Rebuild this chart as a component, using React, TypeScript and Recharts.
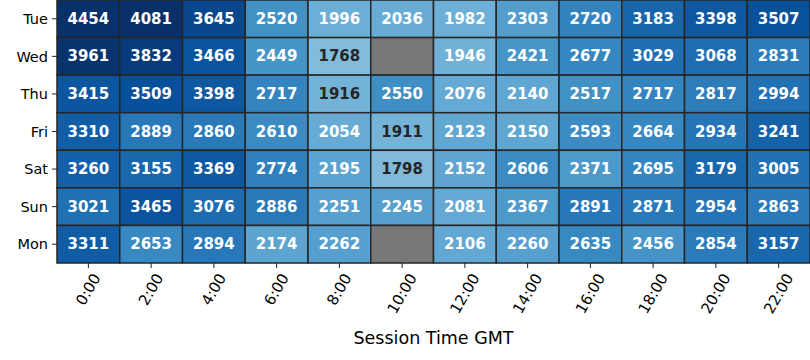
import { ScatterChart, Scatter, XAxis, YAxis } from 'recharts'

const days = ['Tue', 'Wed', 'Thu', 'Fri', 'Sat', 'Sun', 'Mon']
const hours = ['0:00', '2:00', '4:00', '6:00', '8:00', '10:00', '12:00', '14:00', '16:00', '18:00', '20:00', '22:00']

const tue = [4454, 4081, 3645, 2520, 1996, 2036, 1982, 2303, 2720, 3183, 3398, 3507]
const wed = [3961, 3832, 3466, 2449, 1768, null, 1946, 2421, 2677, 3029, 3068, 2831]
const thu = [3415, 3509, 3398, 2717, 1916, 2550, 2076, 2140, 2517, 2717, 2817, 2994]
const fri = [3310, 2889, 2860, 2610, 2054, 1911, 2123, 2150, 2593, 2664, 2934, 3241]
const sat = [3260, 3155, 3369, 2774, 2195, 1798, 2152, 2606, 2371, 2695, 3179, 3005]
const sun = [3021, 3465, 3076, 2886, 2251, 2245, 2081, 2367, 2891, 2871, 2954, 2863]
const mon = [3311, 2653, 2894, 2174, 2262, null, 2106, 2260, 2635, 2456, 2854, 3157]

const rows = [tue, wed, thu, fri, sat, sun, mon]

const cells = rows.flatMap((row, y) => row.map((value, x) => ({ x, y, value })))

const W = 810
const H = 360
const Y_W = 57
const X_H = 97
const cellW = (W - Y_W) / hours.length
const cellH = (H - X_H) / days.length
const FONT = '"DejaVu Sans", sans-serif'

// matplotlib Blues
const blues = ['#f7fbff', '#deebf7', '#c6dbef', '#9ecae1', '#6baed6', '#4292c6', '#2171b5', '#08519c', '#08306b']
const hex = (h: string) => [1, 3, 5].map(i => parseInt(h.slice(i, i + 2), 16))

function bluesRgb(t: number) {
  t = Math.max(0, Math.min(1, t))
  const p = t * (blues.length - 1)
  const i = Math.min(Math.floor(p), blues.length - 2)
  const f = p - i
  const a = hex(blues[i]), b = hex(blues[i + 1])
  return a.map((v, k) => v + (b[k] - v) * f)
}

function lum(rgb: number[]) {
  const c = rgb.map(v => {
    const s = v / 255
    return s <= 0.03928 ? s / 12.92 : Math.pow((s + 0.055) / 1.055, 2.4)
  })
  return 0.2126 * c[0] + 0.7152 * c[1] + 0.0722 * c[2]
}

function Cell(props: any) {
  const { cx, cy, payload } = props
  const v = payload.value
  let fill = '#787878'
  let txt = '#fff'
  if (v != null) {
    const rgb = bluesRgb(v / 4000)
    fill = `rgb(${rgb.map(Math.round).join(',')})`
    txt = lum(rgb) > 0.403 ? '#262626' : '#fff'
  }
  return (
    <g>
      <rect x={cx - cellW / 2} y={cy - cellH / 2} width={cellW} height={cellH} fill={fill} stroke="#262626" strokeWidth={1.5} />
      {v != null && (
        <text x={cx} y={cy} textAnchor="middle" dominantBaseline="central" fill={txt}
          fontSize={15} fontWeight="bold" fontFamily={FONT}>{v}</text>
      )}
    </g>
  )
}

function HourTick({ x, y, payload }: any) {
  const label = hours[payload.value]
  const len = label.replace(':', '').length * 9.5 + 5
  const cy = y + 3 + (len * 0.866 + 8) / 2
  return (
    <text x={x} y={cy} textAnchor="middle" dominantBaseline="central" fontSize={15} fontFamily={FONT}
      fill="#000" transform={`rotate(-60, ${x}, ${cy})`}>{label}</text>
  )
}

export default function App() {
  return (
    <div style={{ position: 'absolute', left: 0, top: 0, width: W, height: H, background: '#fff' }}>
      <ScatterChart width={W} height={H} margin={{ top: 0, right: 0, bottom: 0, left: 0 }}>
        <XAxis type="number" dataKey="x" domain={[-0.5, hours.length - 0.5]} ticks={hours.map((_, i) => i)}
          interval={0} height={X_H} axisLine={false} tickSize={5} tickMargin={0}
          tickLine={{ stroke: '#222', strokeWidth: 1 }} tick={<HourTick />}
          label={{ value: 'Session Time GMT', position: 'insideBottom', offset: 16, fill: '#000', fontSize: 17.5, fontFamily: FONT }} />
        <YAxis type="number" dataKey="y" domain={[-0.5, days.length - 0.5]} ticks={days.map((_, i) => i)}
          reversed interval={0} width={Y_W} axisLine={false} tickSize={5} tickMargin={4}
          tickLine={{ stroke: '#222', strokeWidth: 1 }} tickFormatter={(i: number) => days[i]}
          tick={{ fill: '#000', fontSize: 14.5, fontFamily: FONT }} />
        <Scatter data={cells} shape={<Cell />} isAnimationActive={false} />
      </ScatterChart>
    </div>
  )
}
